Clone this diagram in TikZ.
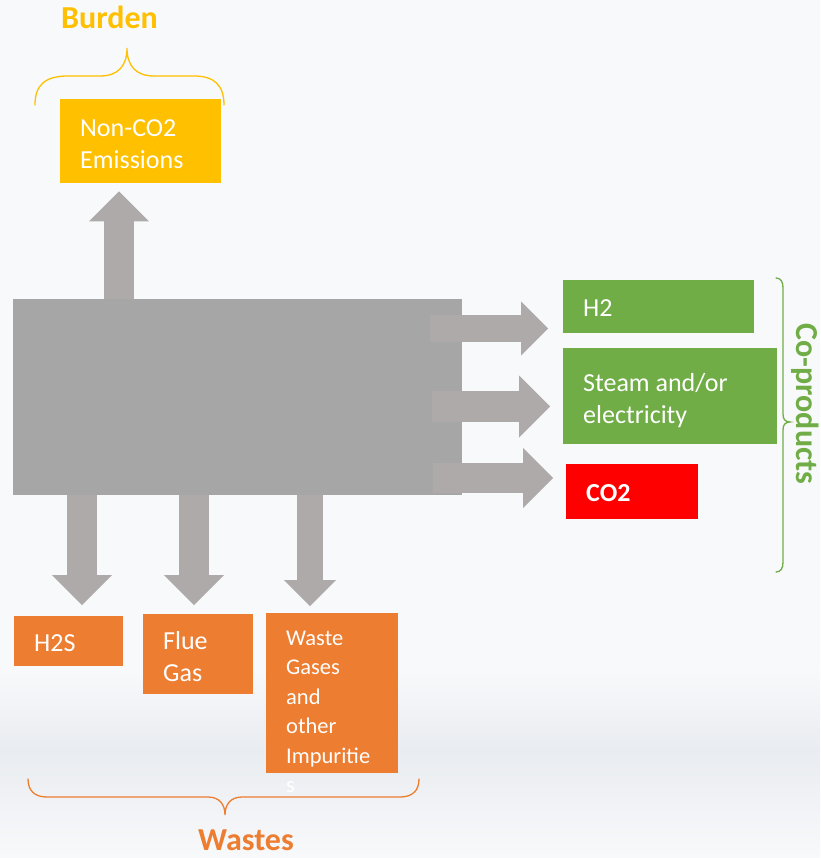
\documentclass[tikz,border=0pt]{standalone}
\usepackage{fontspec}
\setmainfont{Carlito}
\usetikzlibrary{arrows.meta}

\definecolor{unitgray}{HTML}{A6A6A6}
\definecolor{flowgray}{HTML}{AEAAAA}
\definecolor{burdenyellow}{HTML}{FFC000}
\definecolor{coprodgreen}{HTML}{70AD47}
\definecolor{wasteorange}{HTML}{ED7D31}
\definecolor{co2red}{HTML}{FF0000}
\definecolor{backdrop}{RGB}{248,249,251}
\definecolor{haze}{RGB}{233,236,240}

\begin{document}
\begin{tikzpicture}[x = 1pt, y = -1pt,
		box/.style = {rectangle, anchor = north west, inner xsep = 20pt, inner ysep = 0pt, align = flush left, text = white, text height = 20pt, text depth = 0pt, font = \fontsize{26}{32}\selectfont},
		twolines/.style = {text depth = 30pt},
		flow/.style = {draw = flowgray, line width = #1, -{Triangle[length = 0pt 1, width = 0pt 2, line width = 0pt]}},
		heading/.style = {font = \fontsize{32}{38}\selectfont\bfseries},
		brace/.style = {line width = 1.3pt, line cap = round}]
		% backdrop
		\fill[backdrop] (0, 0) rectangle (820, 858);
		\shade[top color = backdrop, bottom color = haze] (0, 670) rectangle (820, 750);
		\shade[top color = haze, bottom color = backdrop] (0, 750) rectangle (820, 858);
		\useasboundingbox (0, 0) rectangle (820, 858);

		% the unit and what leaves it
		\node[fill = unitgray, inner sep = 0pt, anchor = north west, minimum width = 449pt, minimum height = 196pt] (unit) at (13, 299) {};
		\node[box, twolines, fill = burdenyellow, minimum width = 161pt, minimum height = 84pt, text width = 121pt] (emis) at (60, 99) {Non-CO2\\Emissions};
		\node[box, fill = coprodgreen, minimum width = 191pt, minimum height = 53pt, text width = 151pt] (h2) at (563, 280) {H2};
		\node[box, twolines, fill = coprodgreen, minimum width = 214pt, minimum height = 96pt, text width = 174pt] (steam) at (563, 348) {Steam and/or\\electricity};
		\node[box, fill = co2red, minimum width = 132pt, minimum height = 55pt, text width = 92pt] (co2) at (566, 464) {\bfseries CO2};
		\node[box, fill = wasteorange, minimum width = 109pt, minimum height = 50pt, text width = 69pt] (h2s) at (14, 616) {H2S};
		\node[box, twolines, fill = wasteorange, minimum width = 110pt, minimum height = 80pt, text width = 70pt] (flue) at (143, 614) {Flue\\Gas};
		% text runs past the bottom of this one
		\node[box, fill = wasteorange, minimum width = 132pt, minimum height = 160pt, text width = 92pt, text height = 18pt, text depth = 114pt, font = \fontsize{22.5}{29.5}\selectfont] (waste) at (266, 613) {Waste\\Gases\\and\\other\\Impuritie\\s};

		% block arrows
		\coordinate (up) at ([xshift = 106pt]unit.north west);
		\coordinate (rt1) at ([xshift = -32pt, yshift = -29.5pt]unit.north east);
		\coordinate (rt2) at ([xshift = -30pt, yshift = -107.5pt]unit.north east);
		\coordinate (rt3) at ([xshift = -29pt, yshift = -179pt]unit.north east);
		\coordinate (dn1) at ([xshift = 69pt]unit.south west);
		\coordinate (dn2) at ([xshift = 181pt]unit.south west);
		\coordinate (dn3) at ([xshift = 297pt]unit.south west);
		\draw[flow = 30pt, shorten > = 8pt] (up) -- (up |- emis.south);
		\draw[flow = 27pt, shorten > = 15pt] (rt1) -- (rt1 -| h2.west);
		\draw[flow = 31pt, shorten > = 13pt] (rt2) -- (rt2 -| steam.west);
		\draw[flow = 30pt, shorten > = 13pt] (rt3) -- (rt3 -| co2.west);
		\draw[flow = 30pt, shorten > = 11pt] (dn1) -- (dn1 |- h2s.north);
		\draw[flow = 30pt, shorten > = 9pt] (dn2) -- (dn2 |- flue.north);
		\draw[flow = 26pt, shorten > = 7pt] (dn3) -- (dn3 |- waste.north);

		% braces and their headings
		\draw[brace, burdenyellow] (35, 105) .. controls (35, 85) and (45, 76) .. (68, 76) -- (100, 76) .. controls (118, 76) and (127, 66) .. (127, 48) .. controls (127, 66) and (136, 76) .. (154, 76) -- (194, 76) .. controls (214, 76) and (224, 85) .. (224, 105);
		\draw[brace, wasteorange] (28, 779) .. controls (28, 791) and (35, 797) .. (47, 797) -- (208, 797) .. controls (219, 797) and (225, 804) .. (225, 815) .. controls (225, 804) and (231, 797) .. (242, 797) -- (400, 797) .. controls (412, 797) and (419, 791) .. (419, 779);
		\draw[brace, coprodgreen] (776, 278) .. controls (781, 278) and (783, 282) .. (783, 288) -- (783, 414) .. controls (783, 419) and (785, 422) .. (790, 422) .. controls (785, 422) and (783, 425) .. (783, 430) -- (783, 562) .. controls (783, 568) and (781, 572) .. (776, 572);
		\node[heading, text = burdenyellow, anchor = base] (burden) at (109.5, 29) {Burden};
		\node[heading, text = wasteorange, anchor = base] (wastes) at (246, 850) {Wastes};
		\node[heading, text = coprodgreen, rotate = -90, anchor = base west] (coprod) at (796, 320) {Co-products};
	\end{tikzpicture}
\end{document}
